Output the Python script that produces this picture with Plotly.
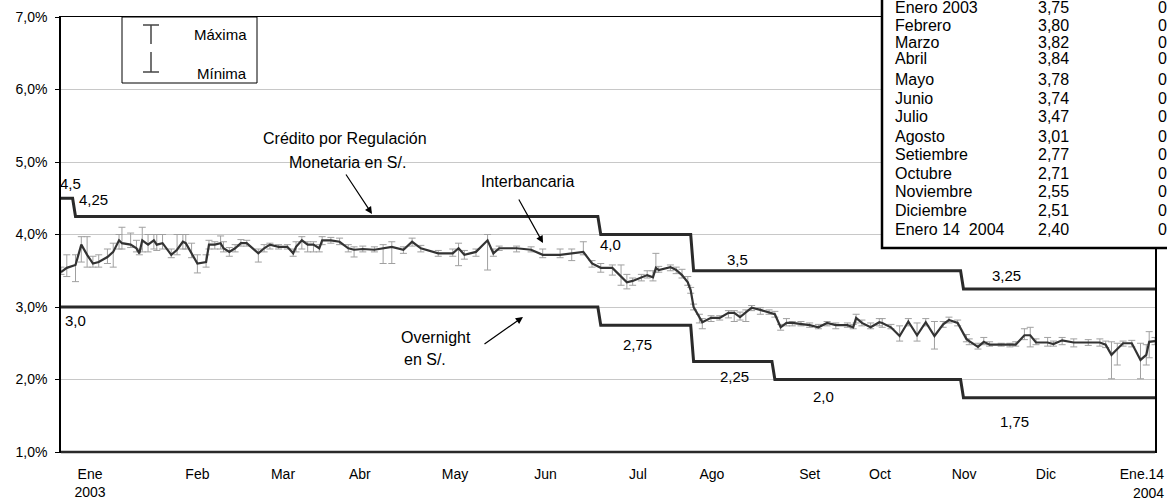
import plotly.graph_objects as go

# ---------------- data ----------------
fechas = [
    "2003-01-02", "2003-01-04", "2003-01-07", "2003-01-09", "2003-01-11", "2003-01-13", "2003-01-15",
    "2003-01-18", "2003-01-20", "2003-01-22", "2003-01-23", "2003-01-26", "2003-01-28", "2003-01-29",
    "2003-01-30", "2003-02-01", "2003-02-03", "2003-02-04", "2003-02-06", "2003-02-09", "2003-02-11",
    "2003-02-13", "2003-02-14", "2003-02-16", "2003-02-18", "2003-02-21", "2003-02-22", "2003-02-24",
    "2003-02-26", "2003-02-27", "2003-03-01", "2003-03-03", "2003-03-05", "2003-03-07", "2003-03-11",
    "2003-03-13", "2003-03-15", "2003-03-18", "2003-03-21", "2003-03-23", "2003-03-24", "2003-03-26",
    "2003-03-28", "2003-03-30", "2003-04-01", "2003-04-02", "2003-04-05", "2003-04-08", "2003-04-11",
    "2003-04-13", "2003-04-16", "2003-04-20", "2003-04-23", "2003-04-26", "2003-04-30", "2003-05-03",
    "2003-05-06", "2003-05-12", "2003-05-17", "2003-05-19", "2003-05-21", "2003-05-25", "2003-05-29",
    "2003-05-31", "2003-06-02", "2003-06-08", "2003-06-13", "2003-06-17", "2003-06-23", "2003-06-27",
    "2003-07-01", "2003-07-04", "2003-07-07", "2003-07-11", "2003-07-14", "2003-07-16", "2003-07-18",
    "2003-07-21", "2003-07-23", "2003-07-25", "2003-07-26", "2003-07-27", "2003-07-31", "2003-08-02",
    "2003-08-04", "2003-08-06", "2003-08-07", "2003-08-08", "2003-08-10", "2003-08-11", "2003-08-14",
    "2003-08-17", "2003-08-20", "2003-08-22", "2003-08-24", "2003-08-26", "2003-08-28", "2003-08-31",
    "2003-09-03", "2003-09-05", "2003-09-07", "2003-09-09", "2003-09-11", "2003-09-14", "2003-09-17",
    "2003-09-20", "2003-09-23", "2003-09-26", "2003-09-30", "2003-10-02", "2003-10-03", "2003-10-05",
    "2003-10-08", "2003-10-11", "2003-10-12", "2003-10-15", "2003-10-18", "2003-10-21", "2003-10-24",
    "2003-10-27", "2003-10-30", "2003-11-02", "2003-11-04", "2003-11-07", "2003-11-10", "2003-11-11",
    "2003-11-14", "2003-11-16", "2003-11-18", "2003-11-22", "2003-11-25", "2003-11-27", "2003-11-30",
    "2003-12-02", "2003-12-04", "2003-12-08", "2003-12-10", "2003-12-13", "2003-12-17", "2003-12-22",
    "2003-12-26", "2003-12-28", "2003-12-30", "2004-01-01", "2004-01-03", "2004-01-06", "2004-01-09",
    "2004-01-11", "2004-01-12", "2004-01-14",
]
interbancaria = [
    3.48, 3.54, 3.58, 3.86, 3.72, 3.60, 3.62,
    3.69, 3.76, 3.92, 3.88, 3.86, 3.81, 3.74,
    3.92, 3.86, 3.92, 3.86, 3.88, 3.72, 3.79,
    3.90, 3.88, 3.74, 3.60, 3.62, 3.86, 3.86,
    3.88, 3.81, 3.76, 3.81, 3.88, 3.88, 3.74,
    3.81, 3.86, 3.83, 3.83, 3.74, 3.83, 3.92,
    3.86, 3.86, 3.81, 3.92, 3.92, 3.90, 3.81,
    3.79, 3.80, 3.79, 3.81, 3.83, 3.79, 3.90,
    3.81, 3.74, 3.74, 3.81, 3.72, 3.76, 3.92,
    3.74, 3.81, 3.81, 3.79, 3.72, 3.72, 3.74,
    3.76, 3.60, 3.54, 3.54, 3.42, 3.34, 3.36,
    3.41, 3.44, 3.41, 3.54, 3.51, 3.55, 3.51,
    3.44, 3.34, 3.23, 3.00, 2.85, 2.79, 2.85,
    2.85, 2.92, 2.92, 2.86, 2.92, 2.99, 2.96,
    2.93, 2.90, 2.72, 2.78, 2.78, 2.77, 2.75,
    2.72, 2.78, 2.75, 2.75, 2.72, 2.85, 2.78,
    2.72, 2.79, 2.78, 2.72, 2.60, 2.80, 2.61,
    2.79, 2.60, 2.76, 2.82, 2.78, 2.56, 2.53,
    2.45, 2.52, 2.48, 2.48, 2.48, 2.48, 2.61,
    2.61, 2.51, 2.51, 2.49, 2.54, 2.51, 2.51,
    2.51, 2.48, 2.34, 2.42, 2.50, 2.50, 2.27,
    2.34, 2.52, 2.53,
]
maxima = [
    3.55, 3.72, 3.72, 3.97, 3.97, 3.70, 3.72,
    3.80, 3.88, 4.00, 4.10, 4.02, 3.92, 3.80,
    4.10, 4.00, 4.00, 4.00, 4.00, 3.80, 4.00,
    4.00, 4.00, 3.88, 3.72, 3.72, 3.92, 3.90,
    3.98, 3.90, 3.82, 3.86, 3.93, 3.92, 3.80,
    3.86, 3.88, 3.86, 3.86, 3.80, 3.90, 3.97,
    3.90, 3.90, 3.86, 3.97, 3.96, 3.95, 3.86,
    3.83, 3.84, 3.83, 3.86, 3.90, 3.83, 3.95,
    3.85, 3.78, 3.80, 3.88, 3.78, 3.80, 4.00,
    3.80, 3.84, 3.84, 3.83, 3.80, 3.80, 3.80,
    3.90, 3.64, 3.60, 3.58, 3.58, 3.45, 3.40,
    3.45, 3.50, 3.50, 3.74, 3.56, 3.58, 3.55,
    3.52, 3.42, 3.27, 3.04, 2.90, 2.84, 2.88,
    2.88, 2.95, 2.95, 2.93, 2.96, 3.02, 2.99,
    2.96, 2.94, 2.76, 2.84, 2.80, 2.80, 2.78,
    2.76, 2.80, 2.78, 2.78, 2.76, 2.90, 2.82,
    2.78, 2.84, 2.84, 2.76, 2.74, 2.84, 2.78,
    2.84, 2.80, 2.80, 2.86, 2.82, 2.62, 2.56,
    2.50, 2.58, 2.52, 2.50, 2.50, 2.52, 2.70,
    2.72, 2.56, 2.58, 2.53, 2.58, 2.56, 2.55,
    2.56, 2.53, 2.52, 2.50, 2.53, 2.54, 2.50,
    2.48, 2.66, 2.58,
]
minima = [
    3.45, 3.42, 3.35, 3.62, 3.55, 3.55, 3.55,
    3.60, 3.55, 3.80, 3.80, 3.82, 3.76, 3.72,
    3.76, 3.76, 3.80, 3.78, 3.80, 3.68, 3.72,
    3.80, 3.80, 3.68, 3.47, 3.55, 3.80, 3.80,
    3.80, 3.76, 3.70, 3.76, 3.84, 3.84, 3.62,
    3.76, 3.80, 3.80, 3.80, 3.70, 3.76, 3.80,
    3.76, 3.76, 3.76, 3.86, 3.88, 3.86, 3.76,
    3.69, 3.76, 3.76, 3.60, 3.60, 3.74, 3.84,
    3.76, 3.70, 3.70, 3.57, 3.66, 3.70, 3.51,
    3.70, 3.78, 3.76, 3.76, 3.68, 3.68, 3.64,
    3.72, 3.55, 3.48, 3.44, 3.30, 3.25, 3.30,
    3.36, 3.40, 3.36, 3.48, 3.48, 3.50, 3.46,
    3.40, 3.30, 3.19, 2.96, 2.78, 2.70, 2.80,
    2.82, 2.85, 2.80, 2.82, 2.80, 2.95, 2.90,
    2.90, 2.86, 2.68, 2.74, 2.74, 2.74, 2.72,
    2.70, 2.74, 2.70, 2.72, 2.70, 2.78, 2.74,
    2.70, 2.74, 2.72, 2.70, 2.53, 2.74, 2.53,
    2.74, 2.42, 2.72, 2.78, 2.74, 2.52, 2.48,
    2.42, 2.48, 2.46, 2.46, 2.45, 2.46, 2.55,
    2.45, 2.48, 2.46, 2.46, 2.48, 2.45, 2.47,
    2.46, 2.44, 2.01, 2.20, 2.46, 2.45, 2.01,
    2.20, 2.30, 2.48,
]

credito_fechas = ["2003-01-02", "2003-01-06", "2003-01-07", "2003-07-06", "2003-07-07",
                  "2003-08-07", "2003-08-08", "2003-11-08", "2003-11-09", "2004-01-14"]
credito_tasa = [4.5, 4.5, 4.25, 4.25, 4.0, 4.0, 3.5, 3.5, 3.25, 3.25]

overnight_fechas = ["2003-01-02", "2003-07-06", "2003-07-07", "2003-08-07", "2003-08-08",
                    "2003-09-04", "2003-09-05", "2003-11-08", "2003-11-09", "2004-01-14"]
overnight_tasa = [3.0, 3.0, 2.75, 2.75, 2.25, 2.25, 2.0, 2.0, 1.75, 1.75]

y_ticks = [1, 2, 3, 4, 5, 6, 7]
y_labels = ["1,0%", "2,0%", "3,0%", "4,0%", "5,0%", "6,0%", "7,0%"]

x_tick_fechas = ["2003-01-12", "2003-02-18", "2003-03-19 12:00", "2003-04-15",
                 "2003-05-17 19:00", "2003-06-18", "2003-07-19 19:00", "2003-08-14 07:00",
                 "2003-09-17", "2003-10-11 05:00", "2003-11-09 05:00", "2003-12-07 10:00",
                 "2004-01-09 12:00"]
x_tick_labels = ["Ene<br>2003", "Feb", "Mar", "Abr", "May", "Jun", "Jul", "Ago", "Set",
                 "Oct", "Nov", "Dic", "Ene.14"]

tabla_meses = ["Enero 2003", "Febrero", "Marzo", "Abril", "Mayo", "Junio", "Julio", "Agosto",
               "Setiembre", "Octubre", "Noviembre", "Diciembre", "Enero 14  2004"]
tabla_promedio = ["3,75", "3,80", "3,82", "3,84", "3,78", "3,74", "3,47", "3,01",
                  "2,77", "2,71", "2,55", "2,51", "2,40"]
tabla_tercera = ["0"] * 13

# ---------------- geometry helpers (window pixel -> paper) ----------------
L, R, T, B = 61, 1155, 17, 452
def px(x):
    return (x - L) / (R - L)
def py(y):
    return (B - y) / (B - T)

FONT = "Liberation Sans, Arial, sans-serif"
DARK = "#2a2a2a"

fig = go.Figure()

err_plus = [h - v for h, v in zip(maxima, interbancaria)]
err_minus = [v - l for v, l in zip(interbancaria, minima)]

fig.add_trace(go.Scatter(
    x=fechas, y=interbancaria, mode="lines",
    line=dict(color="#333333", width=2.2),
    error_y=dict(type="data", symmetric=False, array=err_plus, arrayminus=err_minus,
                 color="#a0a0a0", thickness=1, width=3.5),
    showlegend=False, hoverinfo="skip",
))
fig.add_trace(go.Scatter(
    x=credito_fechas, y=credito_tasa, mode="lines",
    line=dict(color=DARK, width=3), showlegend=False, hoverinfo="skip",
))
fig.add_trace(go.Scatter(
    x=overnight_fechas, y=overnight_tasa, mode="lines",
    line=dict(color=DARK, width=3), showlegend=False, hoverinfo="skip",
))

ann = []
def text(x, y, s, xanchor="center", size=15):
    ann.append(dict(x=px(x), y=py(y), xref="paper", yref="paper", text=s, showarrow=False,
                    xanchor=xanchor, yanchor="middle", font=dict(size=size, color="black", family=FONT)))

# rate labels
text(70, 183, "4,5")
text(93, 200, "4,25")
text(75, 320, "3,0")
text(610, 245, "4,0")
text(737, 259, "3,5")
text(637, 344, "2,75")
text(734, 376, "2,25")
text(823, 396, "2,0")
text(1006, 275, "3,25")
text(1014, 421, "1,75")

# series labels
text(345, 138, "Crédito por Regulación", size=16)
text(347, 162, "Monetaria en S/.", size=16)
text(527, 181, "Interbancaria", size=16)
text(436, 338, "Overnight", size=16)
text(402, 359, "en S/.", xanchor="left", size=16)

# year under last tick
text(1166, 493, "2004", xanchor="right", size=14)

# arrows
def arrow(hx, hy, tx, ty):
    ann.append(dict(x=px(hx), y=py(hy), xref="paper", yref="paper", ax=tx - hx, ay=ty - hy,
                    showarrow=True, arrowhead=2, arrowsize=1.2, arrowwidth=1.2, arrowcolor="black",
                    text=""))
arrow(372, 214, 345, 173)
arrow(543, 243, 518, 198)
arrow(523, 317, 483, 345)

# legend box texts
text(249, 35, "Máxima", xanchor="right")
text(249, 73, "Mínima", xanchor="right")

# table
tabla_y = [7, 25, 42, 59, 80, 98, 116, 136, 154, 173, 191, 210, 229]
for yy, m, p, t in zip(tabla_y, tabla_meses, tabla_promedio, tabla_tercera):
    text(893, yy, m, xanchor="left", size=16)
    text(1036, yy, p, xanchor="left", size=16)
    text(1156, yy, t, xanchor="left", size=16)

shapes = []
# legend box
shapes.append(dict(type="rect", xref="paper", yref="paper", x0=px(122), x1=px(257), y0=py(83), y1=py(17),
                   line=dict(color="black", width=1), fillcolor="white", layer="above"))
# legend glyphs
for (x0, x1, y0, y1) in [(151, 151, 25, 44), (143, 159, 25, 25), (151, 151, 52, 72), (143, 159, 72, 72)]:
    shapes.append(dict(type="line", xref="paper", yref="paper", x0=px(x0), x1=px(x1), y0=py(y0), y1=py(y1),
                       line=dict(color="#444444", width=1.5), layer="above"))
# table box
shapes.append(dict(type="rect", xref="paper", yref="paper", x0=px(882), x1=px(1190), y0=py(248), y1=py(-20),
                   line=dict(color="black", width=2.5), fillcolor="white", layer="above"))
# thick bottom axis line
shapes.append(dict(type="line", xref="paper", yref="paper", x0=0, x1=1, y0=0, y1=0,
                   line=dict(color=DARK, width=2.5), layer="above"))

fig.update_layout(
    width=1167, height=500,
    margin=dict(l=L, r=1167 - R, t=T, b=500 - B, autoexpand=False),
    paper_bgcolor="white", plot_bgcolor="white",
    font=dict(family=FONT, size=14, color="black"),
    annotations=ann, shapes=shapes,
    xaxis=dict(type="date", range=["2003-01-02", "2004-01-14"], showgrid=False, zeroline=False,
               showline=True, linecolor="black", linewidth=1, mirror=True, automargin=False,
               tickmode="array", tickvals=x_tick_fechas, ticktext=x_tick_labels, ticks="",
               ticklabelstandoff=9,
               tickfont=dict(size=14, family=FONT, color="black")),
    yaxis=dict(range=[1, 7], tickmode="array", tickvals=y_ticks, ticktext=y_labels,
               showgrid=True, gridcolor="#c8c8c8", gridwidth=1, zeroline=False,
               showline=True, linecolor="black", linewidth=1.5, mirror=True, automargin=False,
               ticks="outside", ticklen=4, tickcolor="black",
               tickfont=dict(size=14, family=FONT, color="black"), ticklabelstandoff=5),
)

fig.write_html("out.html", config={"displayModeBar": False},
               post_script="document.body.style.margin='0';document.body.style.overflow='hidden';")
